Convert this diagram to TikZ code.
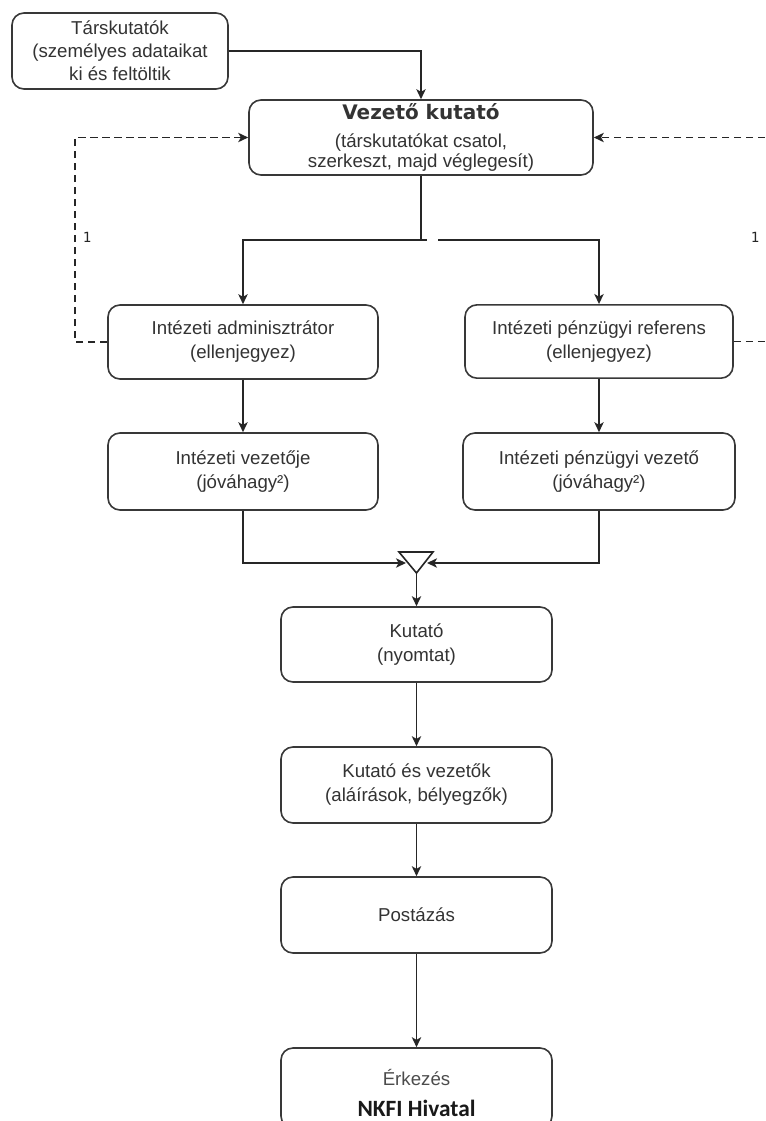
\documentclass[tikz,border=0pt]{standalone}
\usepackage{fontspec}
\setmainfont{Liberation Sans}
\newfontfamily\vkfont{DejaVu Sans}
\newfontfamily\nkfont{Carlito}
\newfontfamily\onefont{DejaVu Sans Mono}
\usetikzlibrary{arrows.meta}
\begin{document}
\begin{tikzpicture}[x=0.75pt,y=-0.75pt,
  box/.style={draw=black!78, line width=1.2pt, rounded corners=9pt, align=center,
    inner sep=0pt, text=black!80, font=\fontsize{14}{18}\selectfont},
  arr/.style={-{Stealth[length=7.5pt,width=7pt,inset=2pt]}, line width=1.2pt, draw=black!85},
  ln/.style={line width=1.2pt, draw=black!85},
  dsh/.style={dash pattern=on 5.5pt off 3.5pt, line width=1.2pt, draw=black!85},
  lbl/.style={inner sep=0pt, text=black!85, font=\onefont\fontsize{10.5}{12}\selectfont}]
\fill[white] (0,0) rectangle (765,1121);
\useasboundingbox (0,0) rectangle (765,1121);

% boxes
\node[box, minimum width=162pt, minimum height=57pt, font=\fontsize{14}{17.25}\selectfont] (tars) at (120,51)
  {Társkutatók\\(személyes adataikat\\ki és feltöltik};
\node[box, minimum width=258pt, minimum height=56.25pt, font=\fontsize{14}{15}\selectfont] (vez) at (421,137.5)
  {{\vkfont\bfseries\fontsize{15}{15}\selectfont Vezető kutató}\\[5.5pt](társkutatókat csatol,\\szerkeszt, majd véglegesít)};
\node[box, minimum width=202.5pt, minimum height=55.5pt] (admin) at (243,342)
  {Intézeti adminisztrátor\\(ellenjegyez)};
\node[box, minimum width=201pt, minimum height=55pt] (ref) at (599,341.5)
  {Intézeti pénzügyi referens\\(ellenjegyez)};
\node[box, minimum width=202.5pt, minimum height=57.75pt] (vezje) at (243,471.5)
  {Intézeti vezetője\\(jóváhagy²)};
\node[box, minimum width=204pt, minimum height=57.75pt] (penzv) at (599,471.5)
  {Intézeti pénzügyi vezető\\(jóváhagy²)};
\node[box, minimum width=203.25pt, minimum height=56.25pt] (kut) at (416.5,644.5)
  {Kutató\\(nyomtat)};
\node[box, minimum width=203.25pt, minimum height=57pt] (kutv) at (416.5,785)
  {Kutató és vezetők\\(aláírások, bélyegzők)};
\node[box, minimum width=203.25pt, minimum height=57pt] (post) at (416.5,915)
  {Postázás};
\node[box, minimum width=203.25pt, minimum height=60pt] (erk) at (416.5,1088) {};
\node[inner sep=0pt, text=black!70, font=\fontsize{14}{16}\selectfont] (erkt) at (416.5,1077) {Érkezés};
\node[inner sep=0pt, text=black!90, font=\nkfont\bfseries\fontsize{17.5}{19}\selectfont] (nkfi) at (416.5,1108) {NKFI Hivatal};

% labels
\node[lbl] (one1) at (87,237) {1};
\node[lbl] (one2) at (755,237) {1};

% coordinates
\coordinate (j) at (421,240);
\coordinate (jg1) at (427,240);
\coordinate (jg2) at (438,240);
\coordinate (dl) at (75,342);
\coordinate (rr1) at (765,341.5);
\coordinate (rr2) at (765,137.5);
\coordinate (tA) at (399,552);
\coordinate (tB) at (433,552);
\coordinate (tC) at (416.5,573);
\coordinate (tl) at (406,563);
\coordinate (tr) at (427,563);

% solid connectors
\draw[arr] (tars.east) -| (vez.north);
\draw[ln] (vez.south) -- (j);
\draw[ln] (j) -- (jg1);
\draw[arr] (j) -| (admin.north);
\draw[arr] (jg2) -| (ref.north);
\draw[arr] (admin.south) -- (vezje.north);
\draw[arr] (ref.south) -- (penzv.north);
\draw[arr] (vezje.south) |- (tl);
\draw[arr] (penzv.south) |- (tr);
\draw[ln, line join=miter] (tA) -- (tB) -- (tC) -- cycle;
\draw[arr] (tC) -- (kut.north);
\draw[arr] (kut.south) -- (kutv.north);
\draw[arr] (kutv.south) -- (post.north);
\draw[arr] (post.south) -- (erk.north);

% dashed connectors
\draw[dsh, arr] (admin.west) -- (dl) |- (vez.west);
\draw[dsh] (ref.east) -- (rr1);
\draw[dsh, arr] (rr2) -- (vez.east);
\end{tikzpicture}
\end{document}
